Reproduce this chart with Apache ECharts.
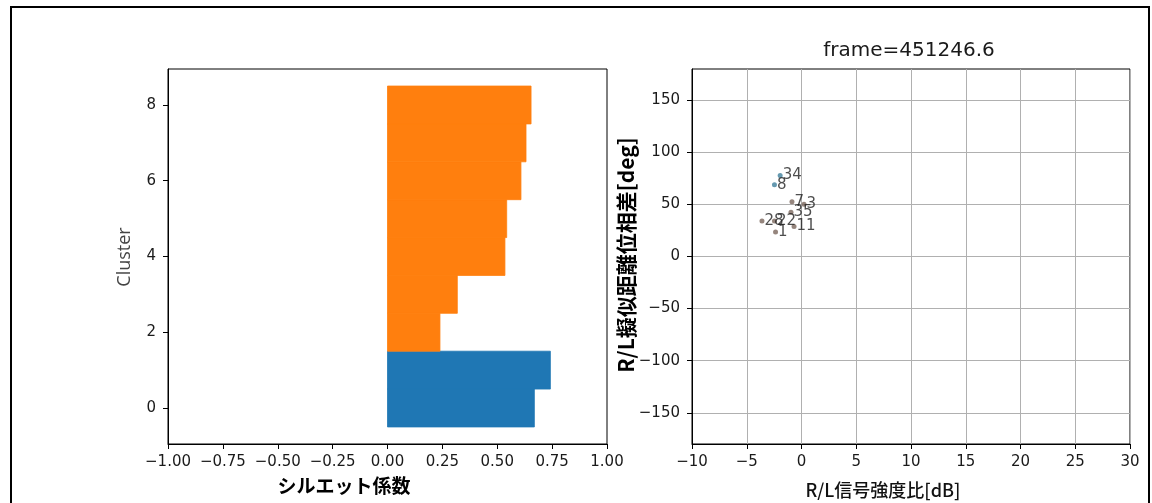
<!DOCTYPE html>
<html>
<head>
<meta charset="utf-8">
<script src="https://cdn.jsdelivr.net/npm/echarts@6/dist/echarts.min.js"></script>
<style>
html,body{margin:0;padding:0;background:#fff;}
#main{width:1152px;height:503px;}
</style>
</head>
<body>
<div id="main"></div>
<script>
// ---- Left: silhouette plot data ----
var clusterRows = [0, 1, 2, 3, 4, 5, 6, 7, 8];
var silhouetteValues = [0.669, 0.742, 0.239, 0.318, 0.535, 0.543, 0.608, 0.631, 0.654];
var rowCluster = [0, 0, 1, 1, 1, 1, 1, 1, 1];
var clusterTicksY = [0, 2, 4, 6, 8];

// ---- Right: scatter data ----
var pointLabels = ['34', '8', '7', '3', '35', '28', '22', '11', '1'];
var ratioDb = [-1.95, -2.47, -0.87, 0.23, -0.96, -3.61, -2.47, -0.68, -2.37];
var phaseDeg = [77.8, 69.0, 52.6, 50.2, 42.5, 34.2, 34.2, 28.9, 23.6];
var pointGroup = [0, 0, 1, 1, 1, 1, 1, 1, 1];
var phaseTicks = [-150, -100, -50, 0, 50, 100, 150];

var barColors = ['#1f77b4', '#ff7f0e'];
var dotColors = ['#3f7f9c', '#7a665c'];

var chart = echarts.init(document.getElementById('main'), null, {renderer: 'canvas'});

function fmtMinus(v, d) {
  var s = Math.abs(v).toFixed(d);
  return (v < 0 ? '\u2212' : '') + s;
}

var tickFont = {fontFamily: 'DejaVu Sans', fontSize: 15, color: '#1a1a1a'};

var silData = clusterRows.map(function (r, i) {
  return [silhouetteValues[i], r, rowCluster[i]];
});
var scatterData = pointLabels.map(function (l, i) {
  return {name: l, value: [ratioDb[i], phaseDeg[i]], itemStyle: {color: dotColors[pointGroup[i]]}};
});

var option = {
  animation: false,
  backgroundColor: '#fff',
  grid: [
    {left: 168, top: 69, width: 439, height: 375, show: true, borderColor: '#000', borderWidth: 1, backgroundColor: 'transparent'},
    {left: 692, top: 69, width: 438, height: 375, show: true, borderColor: '#000', borderWidth: 1, backgroundColor: 'transparent'}
  ],
  xAxis: [
    {
      type: 'value', gridIndex: 0, min: -1, max: 1, interval: 0.25,
      axisLine: {show: true, onZero: false, lineStyle: {color: '#000', width: 1}},
      axisTick: {show: true, length: 5, lineStyle: {color: '#000'}},
      axisLabel: Object.assign({margin: 11, formatter: function (v) { return fmtMinus(v, 2); }}, tickFont),
      splitLine: {show: false}
    },
    {
      type: 'value', gridIndex: 1, min: -10, max: 30, interval: 5,
      axisLine: {show: true, onZero: false, lineStyle: {color: '#000', width: 1}},
      axisTick: {show: true, length: 5, lineStyle: {color: '#000'}},
      axisLabel: Object.assign({margin: 11, formatter: function (v) { return fmtMinus(v, 0); }}, tickFont),
      splitLine: {show: true, lineStyle: {color: '#b0b0b0', width: 1}}
    }
  ],
  yAxis: [
    {
      type: 'value', gridIndex: 0, min: -0.95, max: 8.95,
      axisLine: {show: true, onZero: false, lineStyle: {color: '#000', width: 1}},
      axisTick: {show: true, length: 5, lineStyle: {color: '#000'}, customValues: clusterTicksY},
      axisLabel: Object.assign({margin: 12, customValues: clusterTicksY, formatter: function (v) { return fmtMinus(v, 0); }}, tickFont),
      splitLine: {show: false}
    },
    {
      type: 'value', gridIndex: 1, min: -180, max: 180,
      axisLine: {show: true, onZero: false, lineStyle: {color: '#000', width: 1}},
      axisTick: {show: true, length: 5, lineStyle: {color: '#000'}, customValues: phaseTicks},
      axisLabel: Object.assign({margin: 12, customValues: phaseTicks, formatter: function (v) { return fmtMinus(v, 0); }}, tickFont),
      splitLine: {show: true, lineStyle: {color: '#b0b0b0', width: 1}}
    }
  ],
  series: [
    {
      type: 'custom', xAxisIndex: 0, yAxisIndex: 0,
      data: silData,
      encode: {x: 0, y: 1},
      renderItem: function (params, api) {
        var v = api.value(0), r = api.value(1), g = api.value(2);
        var p0 = api.coord([0, r + 0.5]);
        var p1 = api.coord([v, r - 0.5]);
        return {
          type: 'rect',
          shape: {x: p0[0], y: p0[1], width: p1[0] - p0[0], height: p1[1] - p0[1]},
          style: {fill: barColors[g], stroke: barColors[g], lineWidth: 0.8}
        };
      }
    },
    {
      type: 'scatter', xAxisIndex: 1, yAxisIndex: 1,
      symbolSize: 5,
      data: scatterData,
      label: {
        show: true, position: 'right', distance: 0, offset: [11, -7],
        formatter: '{b}', fontFamily: 'DejaVu Sans', fontSize: 15, color: '#222'
      },
      labelLayout: {hideOverlap: false}
    }
  ],
  graphic: [
    {type: 'rect', shape: {x: 11, y: 7, width: 1138, height: 520}, style: {fill: 'none', stroke: '#000', lineWidth: 2}, silent: true},
    {type: 'text', x: 909, y: 51, style: {text: 'frame=451246.6', fontFamily: 'DejaVu Sans', fontSize: 20, fill: '#1a1a1a', textAlign: 'center', textVerticalAlign: 'middle'}},
    {type: 'text', x: 125, y: 257, rotation: Math.PI / 2, style: {text: 'Cluster', fontFamily: 'Open Sans', fontSize: 18, fill: '#444', textAlign: 'center', textVerticalAlign: 'middle'}},
    {type: 'text', x: 344, y: 486, style: {text: 'シルエット係数', fontFamily: 'Noto Sans CJK JP', fontWeight: 'bold', fontSize: 19, fill: '#000', textAlign: 'center', textVerticalAlign: 'middle'}},
    {type: 'text', x: 883, y: 490, style: {text: 'R/L信号強度比[dB]', fontFamily: 'Noto Sans CJK JP', fontWeight: 500, fontSize: 18, fill: '#111', textAlign: 'center', textVerticalAlign: 'middle'}},
    {type: 'text', x: 626, y: 255, rotation: Math.PI / 2, style: {text: 'R/L擬似距離位相差[deg]', fontFamily: 'Noto Sans CJK JP', fontWeight: 'bold', fontSize: 21, fill: '#000', textAlign: 'center', textVerticalAlign: 'middle'}}
  ]
};
chart.setOption(option);
</script>
</body>
</html>
